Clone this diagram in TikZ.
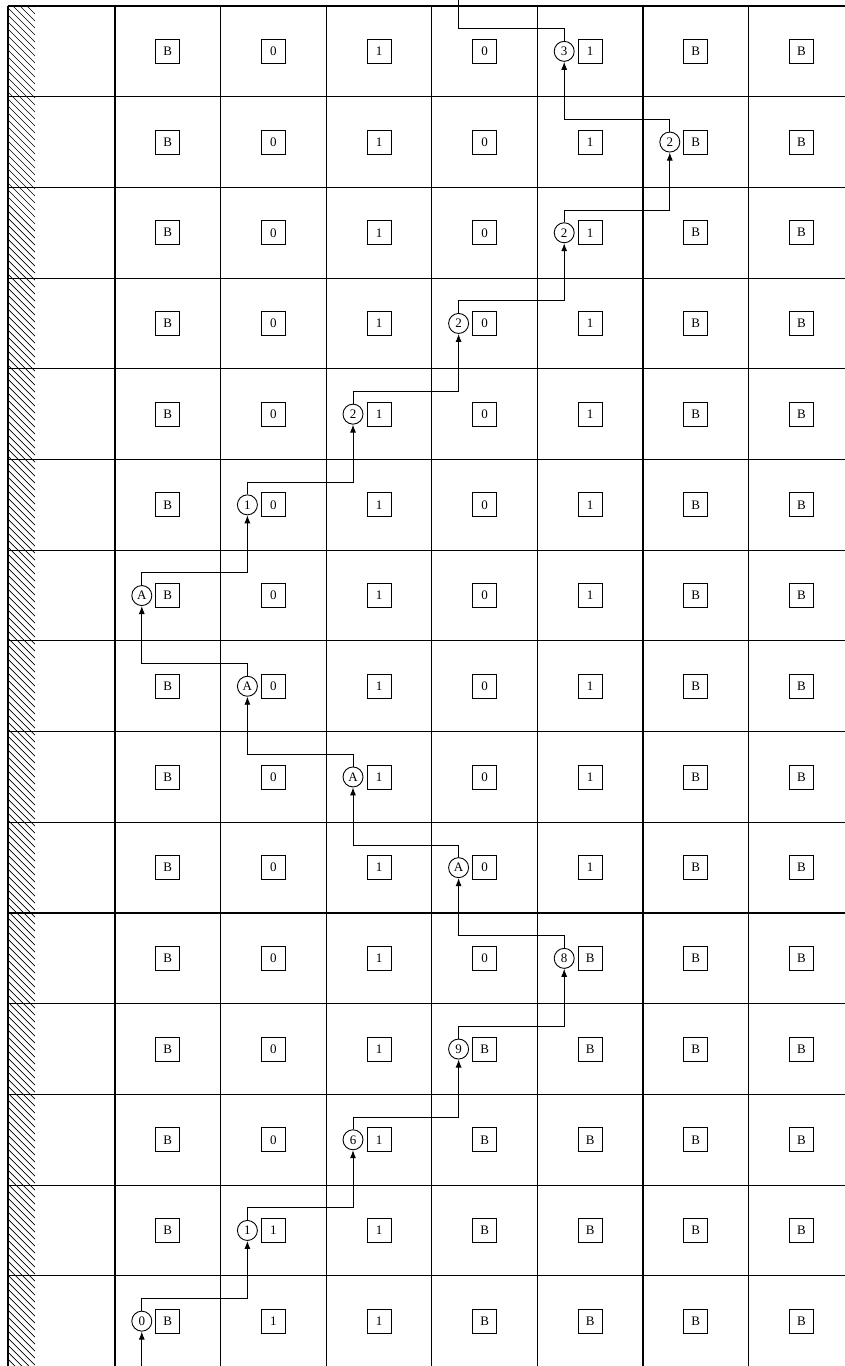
\documentclass[tikz,border=0pt]{standalone}
\usepackage{fontspec}
\setmainfont{Liberation Serif}
\usetikzlibrary{arrows.meta}
\tikzset{
  gridline/.style={line width=1.1pt, black},
  hatchline/.style={line width=0.7pt, black},
  cellbox/.style={draw, line width=0.9pt, minimum size=24pt, inner sep=0pt, font=\fontsize{13}{15}\selectfont},
  headcirc/.style={draw, circle, line width=0.9pt, minimum size=20pt, inner sep=0pt, font=\fontsize{13}{15}\selectfont},
  arr/.style={line width=0.9pt, -{Latex[length=8pt,width=6pt]}},
  plain/.style={line width=0.9pt}
}
\begin{document}
\begin{tikzpicture}[x=1pt, y=-1pt]
\useasboundingbox (0,0) rectangle (845,1366);
\begin{scope}
\clip (0,0) rectangle (845,1366);
% hatched strip
\begin{scope}
\clip (8,6) rectangle (35,1366);
\foreach \i in {0,7,...,1400} {
  \draw[hatchline] (8,\i-27) -- (35,\i);
}
\end{scope}
\draw[gridline] (8,6) -- (8,1366);
% horizontal lines
\foreach \j in {0,...,14} {
  \draw[gridline] (8,{6+\j*90.7}) -- (845,{6+\j*90.7});
}
% vertical lines
\foreach \k in {0,...,6} {
  \draw[gridline] ({115+\k*105.6},6) -- ({115+\k*105.6},1366);
}
% cells
\foreach \r/\row/\cc/\cl in {
  1/{B,0,1,0,1,B,B}/5/3,
  2/{B,0,1,0,1,B,B}/6/2,
  3/{B,0,1,0,1,B,B}/5/2,
  4/{B,0,1,0,1,B,B}/4/2,
  5/{B,0,1,0,1,B,B}/3/2,
  6/{B,0,1,0,1,B,B}/2/1,
  7/{B,0,1,0,1,B,B}/1/A,
  8/{B,0,1,0,1,B,B}/2/A,
  9/{B,0,1,0,1,B,B}/3/A,
  10/{B,0,1,0,1,B,B}/4/A,
  11/{B,0,1,0,B,B,B}/5/8,
  12/{B,0,1,B,B,B,B}/4/9,
  13/{B,0,1,B,B,B,B}/3/6,
  14/{B,1,1,B,B,B,B}/2/1,
  15/{B,1,1,B,B,B,B}/1/0} {
  \foreach \t [count=\k] in \row {
    \node[cellbox] (b\r-\k) at ({115+(\k-0.5)*105.6},{6+(\r-0.5)*90.7}) {\t};
  }
  \node[headcirc] (c\r) at ({115+(\cc-0.5)*105.6-26},{6+(\r-0.5)*90.7}) {\cl};
  \coordinate (l\r) at (0,{6+(\r-0.5)*90.7-22.7});
}
% head movement
\coordinate (entry) at (c15.center |- 0,1366);
\draw[arr] (entry) -- (c15.south);
\foreach \r in {1,...,14} {
  \pgfmathtruncatemacro\s{\r+1}
  \draw[arr] (c\s.north) -- (c\s.north |- l\s) -| (c\r.south);
}
\coordinate (exit) at ({115+3.5*105.6-26},0);
\draw[plain] (c1.north) -- (c1.north |- l1) -| (exit);
\end{scope}
\end{tikzpicture}
\end{document}
